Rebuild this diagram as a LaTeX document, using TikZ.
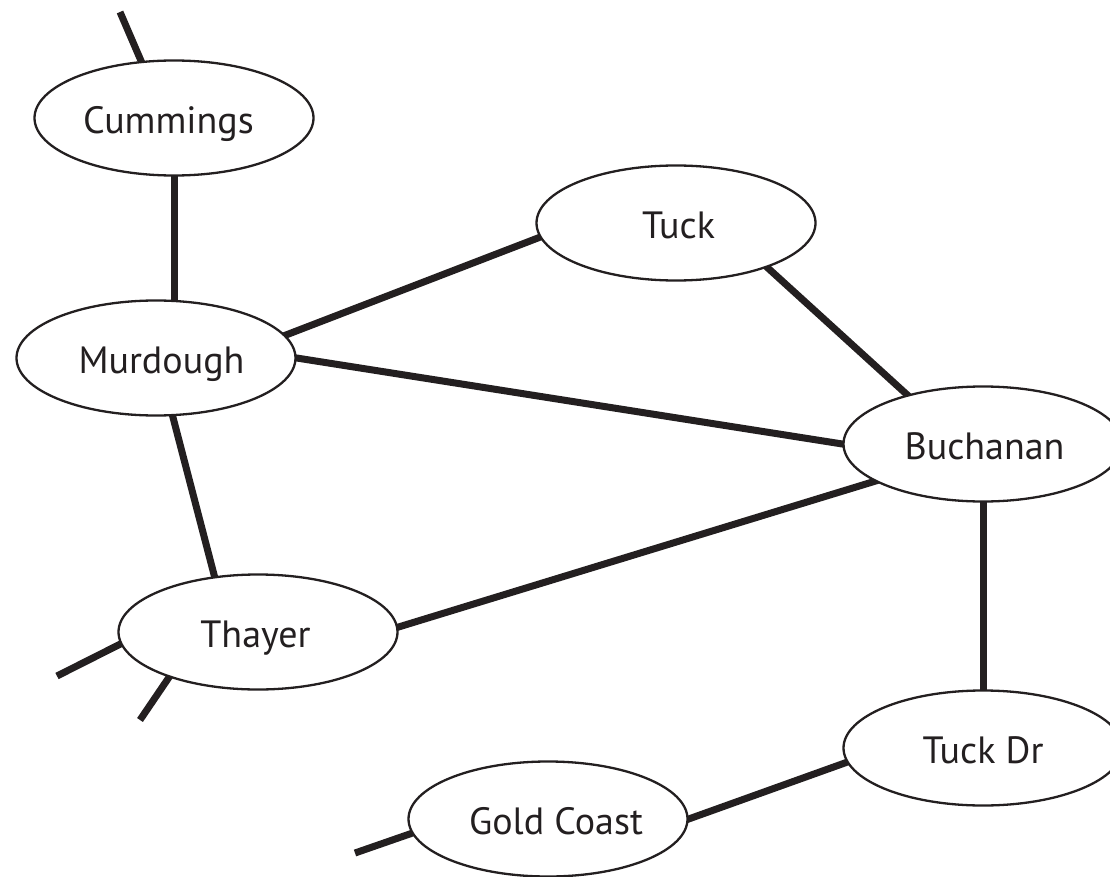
\documentclass[tikz,border=0pt]{standalone}
\usepackage{fontspec}
\setmainfont{PT Sans}
\usetikzlibrary{shapes.geometric,backgrounds}
\definecolor{ink}{RGB}{35,31,32}
% nudge a label sideways inside its stop without moving the ellipse
\newcommand{\nudgeR}[2]{\hspace*{#1}#2}
\newcommand{\nudgeL}[2]{#2\hspace*{#1}}
\begin{document}
\begin{tikzpicture}[x=1pt,y=-1pt,
  stop/.style={ellipse, draw=ink, line width=2.3pt, fill=white,
    minimum width=279pt, minimum height=115pt, inner sep=0pt,
    font=\fontsize{38}{40}\selectfont, text=ink,
    text height=31pt, text depth=0pt},
  road/.style={draw=ink, line width=7pt},
  into/.style={shorten <=-4pt, shorten >=-4pt},
  intoend/.style={shorten >=-4pt}]
\useasboundingbox (0,0) rectangle (1110,877);
\clip (0,0) rectangle (1110,877);

% stops
\node[stop] (cum)   at (174,118) {\nudgeL{11pt}{Cummings}};
\node[stop] (tuck)  at (676,223) {\nudgeR{5pt}{Tuck}};
\node[stop] (mur)   at (156,358) {\nudgeR{11pt}{Murdough}};
\node[stop] (buch)  at (983,444) {\nudgeR{3pt}{Buchanan}};
\node[stop] (thay)  at (258,632) {\nudgeL{5pt}{Thayer}};
\node[stop] (tdr)   at (983,748) {Tuck Dr};
\node[stop] (gold)  at (548,819) {\nudgeR{16pt}{Gold Coast}};

% loose ends leaving the map
\coordinate (cumout)   at (120,12);
\coordinate (thayoutA) at (57,676);
\coordinate (thayoutB) at (140,720);
\coordinate (goldout)  at (355,853);

% roads, drawn under the stops
\begin{pgfonlayer}{background}
  \draw[road, intoend] (cumout) -- (cum.120);
  \draw[road, into] (cum.south) -- (cum.south |- mur.north);
  \draw[road, into] (mur.10) -- (tuck.186);
  \draw[road, into] (mur.0) -- (buch.180);
  \draw[road, into] (tuck.-26) -- (buch.147);
  \draw[road, into] (mur.-74) -- (thay.128);
  \draw[road, into] (buch.199) -- (thay.2);
  \draw[road, into] (buch.south) -- (tdr.north);
  \draw[road, into] (tdr.186) -- (gold.0);
  \draw[road, intoend] (thayoutA) -- (thay.185);
  \draw[road, intoend] (thayoutB) -- (thay.207);
  \draw[road, intoend] (goldout) -- (gold.186);
\end{pgfonlayer}
\end{tikzpicture}
\end{document}
